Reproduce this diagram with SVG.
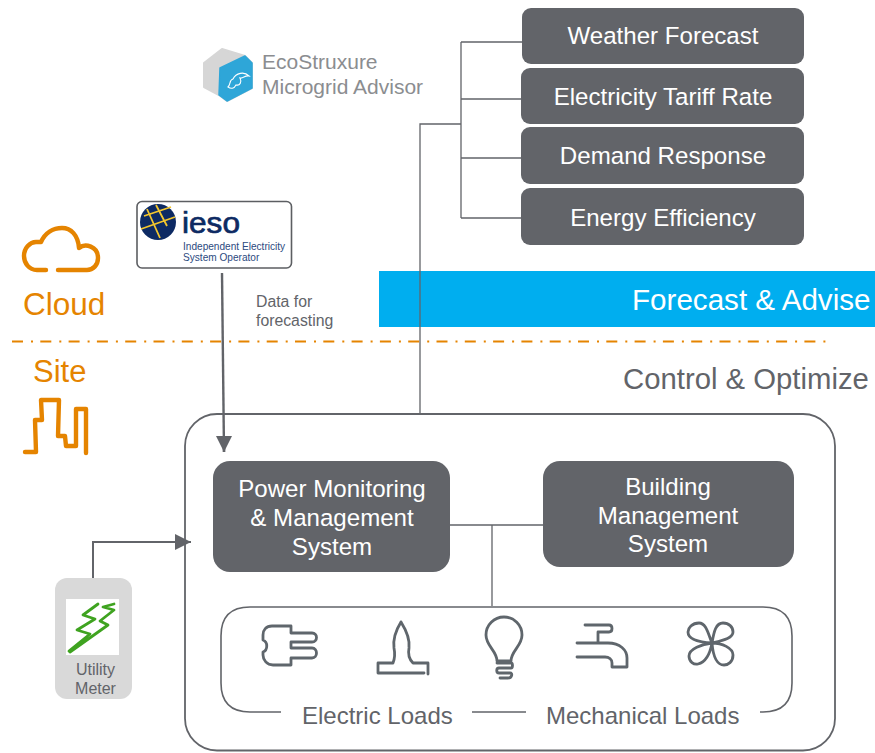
<svg xmlns="http://www.w3.org/2000/svg" width="875" height="753" viewBox="0 0 875 753">
<style>
text{font-family:"Liberation Sans",Arial,sans-serif}
.box{fill:#626469}
.bt{fill:#fff;font-size:24.1px;text-anchor:middle}
.ln{fill:none;stroke:#626469;stroke-width:1.3}
.ic{fill:none;stroke:#5f666c;stroke-width:2.8;stroke-linejoin:round;stroke-linecap:round}
.or{fill:none;stroke:#e58400;stroke-width:4.4;stroke-linejoin:round;stroke-linecap:round}
</style>
<defs>
<marker id="ah" markerUnits="userSpaceOnUse" markerWidth="16" markerHeight="16" refX="16" refY="8" orient="auto"><path d="M0 0L16 8L0 16Z" fill="#626469"/></marker>
</defs>
<rect x="379" y="271" width="496" height="56" fill="#00aeef"/>
<g id="connectors">
<path class="ln" d="M461 42V218M461 42H522M461 99H522M461 158H522M461 218H522M420 414V124H461"/>
<path d="M222 273L224 452" fill="none" stroke="#626469" stroke-width="2.400"/>
<path d="M224 436L224 452" stroke="#626469" stroke-width="2.400" marker-end="url(#ah)"/>
<path d="M93 580V542H191" fill="none" stroke="#626469" stroke-width="2" marker-end="url(#ah)"/>
<path class="ln" d="M450 525H543M492 525V606"/>
</g>
<path d="M12 341.500H828" fill="none" stroke="#e58400" stroke-width="2" stroke-dasharray="11 8 2 7.300"/>
<g id="weather"><rect class="box" x="522" y="8" width="282" height="56" rx="9"/><text class="bt" x="663" y="44">Weather Forecast</text></g>
<g id="tariff"><rect class="box" x="521" y="68" width="283" height="56" rx="9"/><text class="bt" x="663" y="105">Electricity Tariff Rate</text></g>
<g id="demand"><rect class="box" x="521" y="127" width="283" height="57" rx="9"/><text class="bt" x="663" y="164">Demand Response</text></g>
<g id="efficiency"><rect class="box" x="521" y="188" width="283" height="57" rx="9"/><text class="bt" x="663" y="226">Energy Efficiency</text></g>
<g id="ecostruxure">
<path d="M204 63L222 49L245 56L252 63V88L227 101L219 95L204 87Z" fill="#d6d6d6" stroke="#d6d6d6" stroke-width="2" stroke-linejoin="round"/>
<path d="M220 68L245 56L252 63V88L227 101L219 95Z" fill="#2ea6d8" stroke="#2ea6d8" stroke-width="1.500" stroke-linejoin="round"/>
<path d="M228 87C231 84 229 80 233 79C236 73 244 71 249 76C245 75 243 79 240 78C242 82 240 86 236 85C234 89 231 89 228 87Z" fill="none" stroke="#fff" stroke-width="1.100"/>
<text x="262" y="69" font-size="21" fill="#8b8d90">EcoStruxure</text>
<text x="262" y="94" font-size="21" fill="#8b8d90">Microgrid Advisor</text>
</g>
<g id="ieso">
<rect x="137" y="201.500" width="154.500" height="66.500" rx="5" fill="#fff" stroke="#5c5e62" stroke-width="1.600"/>
<circle cx="158" cy="222" r="18" fill="#0d2a63"/>
<path d="M147 209L160 238M156 205L167 226M141 229L175 217M144 216L171 207" stroke="#f2c52e" stroke-width="1.800" fill="none"/>
<text x="182" y="233" font-size="30" fill="#0d2a63" stroke="#0d2a63" stroke-width=".7" textLength="58" lengthAdjust="spacingAndGlyphs">ieso</text>
<text x="183" y="250" font-size="10.100" fill="#2c4a80">Independent Electricity</text>
<text x="183" y="261" font-size="10.100" fill="#2c4a80">System Operator</text>
</g>
<g id="cloud">
<path class="or" d="M46 270H37C29 270 24 263 24 256C24 248 30 242 36 242H41C45 233 53 228 62 228C71 228 78 235 79 248C85 243 98 246 98 258C98 265 93 270 87 270H58"/>
<text x="23" y="315" font-size="31.500" fill="#e58400">Cloud</text>
</g>
<g id="site">
<text x="33" y="382" font-size="31" fill="#e58400">Site</text>
<path class="or" d="M25 452H36L35 420H42L41 400H59L58 436H65L66 446H76V409H86V453"/>
</g>
<text x="256" y="307" font-size="15.800" fill="#626469">Data for</text>
<text x="256" y="326" font-size="15.800" fill="#626469">forecasting</text>
<text x="632" y="310" font-size="29.600" fill="#fff">Forecast &amp; Advise</text>
<text x="623" y="389" font-size="29.300" fill="#626469">Control &amp; Optimize</text>
<g id="optimize"><rect x="185" y="414" width="650" height="336.500" rx="32" fill="none" stroke="#626469" stroke-width="1.800"/></g>
<g id="pmms"><rect class="box" x="213" y="461" width="237" height="111" rx="17"/>
<text class="bt" x="332" y="497">Power Monitoring</text><text class="bt" x="332" y="526">&amp; Management</text><text class="bt" x="332" y="555">System</text></g>
<g id="bms"><rect class="box" x="543" y="461" width="251" height="106" rx="17"/>
<text class="bt" x="668" y="495">Building</text><text class="bt" x="668" y="524">Management</text><text class="bt" x="668" y="552">System</text></g>
<g id="meter">
<rect x="55" y="578" width="77" height="121" rx="12" fill="#d9d9d9"/>
<rect x="66" y="599" width="53" height="56" fill="#fff"/>
<path d="M69 651L90 634L77 630L95 619L83 615L98 604M70 652L108 625L100 621L114 610L103 607L114 604" fill="none" stroke="#3fa320" stroke-width="2.800" stroke-linejoin="round" stroke-linecap="round"/>
<text x="95.500" y="675" font-size="16" fill="#626469" text-anchor="middle">Utility</text>
<text x="95.500" y="694" font-size="16" fill="#626469" text-anchor="middle">Meter</text>
</g>
<g id="loads">
<path d="M281 712H250Q221 712 221 683V636Q221 607 250 607H763Q792 607 792 636V683Q792 712 763 712H760M472 712H526" fill="none" stroke="#626469" stroke-width="1.600"/>
<text x="302" y="724" font-size="24" fill="#626469">Electric Loads</text>
<text x="546" y="724" font-size="24" fill="#626469">Mechanical Loads</text>
</g>
<g id="plug"><path class="ic" d="M272 626H291V633H312C318 633 318 642 312 642H291V648H312C318 648 318 658 312 658H291V665H273C267 665 263 660 263 655V652C268 650 268 642 263 640V635C263 630 266 626 272 626Z"/></g>
<g id="flame"><path class="ic" d="M401 622C396 630 393 640 394 648C395 653 395 658 393 663H378V673H424M401 622C406 630 410 640 409 648C408 653 408 658 413 663H428V674"/></g>
<g id="bulb"><path class="ic" d="M497 661C497 651 486 646 486 635C486 625 494 617 504 617C514 617 522 625 522 635C522 646 511 651 511 661ZM497 663H511C513 663 513 668 511 668H499C496 668 496 673 499 673H510C513 673 512 678 508 678H500"/></g>
<g id="tap"><path class="ic" d="M585 625H609C613 625 613 632 609 632H598V643M577 643H608C620 643 627 650 627 658V667H612V663C612 659 609 657 605 657H577"/></g>
<g id="fan"><path class="ic" d="M712 643C708 633 706 623 699 623C692 623 688 628 688 632C688 638 696 642 712 643ZM712 643C714 631 716 623 723 623C729 623 733 627 733 632C733 638 724 640 712 643ZM712 643C722 643 733 648 733 655C733 662 728 665 724 665C716 665 713 655 712 643ZM712 643C702 644 689 649 689 656C689 662 694 665 698 664C706 662 710 654 712 643Z"/></g>
</svg>
